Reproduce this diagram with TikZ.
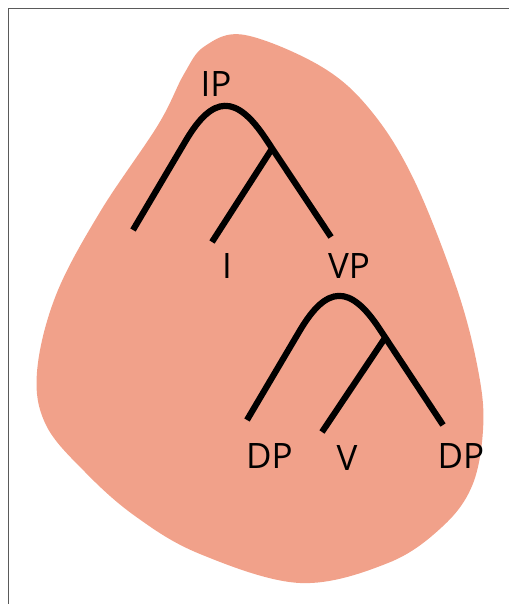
\documentclass[tikz,border=0pt]{standalone}
\usepackage{fontspec}
\setmainfont{Open Sans}
\usetikzlibrary{calc}
\definecolor{saumon}{RGB}{241,161,138}
\definecolor{cadre}{RGB}{90,90,90}
\tikzset{
    branche/.style={line width=6.2pt},
    etiquette/.style={inner sep=0pt, font=\fontsize{35}{42}\selectfont},
  }

\begin{document}
\begin{tikzpicture}[x=1pt,y=-1pt]
	%cadre
	\useasboundingbox (0,0) rectangle (509,604);
	\draw[cadre, line width=1.8pt] (8.5,604) -- (8.5,8.5) -- (509,8.5);

	%FOND saumon
	\fill[saumon] plot[smooth cycle, tension=0.6] coordinates {
		(245,35) (205,46) (184,74) (158,125) (100,212) (56,295) (37,372)
		(46,425) (85,472) (135,516) (200,554) (300,583) (388,563) (442,527)
		(472,486) (483,430) (479,375) (458,292) (415,182) (372,112) (322,67)};

	%IP
	\coordinate (IPspec) at (133,230);
	\coordinate (IPsommet) at (224,76);
	\coordinate (VPfin) at (331,237);
	\coordinate (Ijonction) at ($(VPfin)!0.55!(IPsommet)$);
	\coordinate (Ifin) at (212,242);
	\node[etiquette] (IP) at (216,84.5) {IP};
	\node[etiquette] (I) at (227,266.5) {I};
	\node[etiquette] (VP) at (349,266.5) {VP};
	\draw[branche] (IPspec) -- ($(IPsommet)!75pt!(IPspec)$)
		.. controls ($(IPsommet)!22pt!(IPspec)$) and ($(IPsommet)!22pt!(VPfin)$)
		.. ($(IPsommet)!75pt!(VPfin)$) -- (VPfin);
	\draw[branche] (Ijonction) -- (Ifin);

	%VP
	\coordinate (DPspec) at (247,420);
	\coordinate (VPsommet) at (338,266);
	\coordinate (DPfin) at (443,425);
	\coordinate (Vjonction) at ($(DPfin)!0.55!(VPsommet)$);
	\coordinate (Vfin) at (322,432);
	\node[etiquette] (DPa) at (269.5,456.5) {DP};
	\node[etiquette] (V) at (347,458) {V};
	\node[etiquette] (DPb) at (461,456) {DP};
	\draw[branche] (DPspec) -- ($(VPsommet)!75pt!(DPspec)$)
		.. controls ($(VPsommet)!22pt!(DPspec)$) and ($(VPsommet)!22pt!(DPfin)$)
		.. ($(VPsommet)!75pt!(DPfin)$) -- (DPfin);
	\draw[branche] (Vjonction) -- (Vfin);
\end{tikzpicture}
\end{document}
